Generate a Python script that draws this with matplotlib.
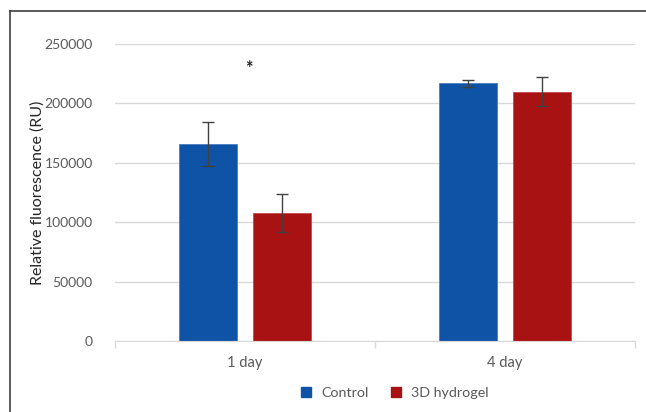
import numpy as np
import matplotlib.pyplot as plt
from matplotlib.lines import Line2D

days = ['1 day', '4 day']
series = ['Control', '3D hydrogel']
control = [166000, 216800]
control_err = [18500, 2800]
hydrogel = [107800, 210000]
hydrogel_err = [16300, 12000]
star_pos = 0
star_y = 229000

colors = ['#0F53A6', '#A81212']
txt = '#595959'

plt.rcParams['font.family'] = ['Lato', 'DejaVu Sans']

fig = plt.figure(figsize=(6.46, 4.12), dpi=100)
ax = fig.add_axes([115/646, 71/412, 520/646, 297/412])

x = np.arange(len(days))
w = 0.224
off = 0.142
ax.bar(x - off, control, w, color=colors[0], edgecolor='#4A7FC0', linewidth=0.6, zorder=2)
ax.bar(x + off, hydrogel, w, color=colors[1], edgecolor='#C04A4A', linewidth=0.6, zorder=2)
ax.errorbar(x - off, control, yerr=control_err, fmt='none', ecolor='#404040',
            elinewidth=1, capsize=4.5, capthick=1, zorder=3)
ax.errorbar(x + off, hydrogel, yerr=hydrogel_err, fmt='none', ecolor='#404040',
            elinewidth=1, capsize=4.5, capthick=1, zorder=3)
ax.text(star_pos + 0.015, star_y, '*', ha='center', va='center', fontsize=13,
        fontweight='bold', color='#222222')

ax.set_xlim(-0.5, 1.5)
ax.set_ylim(0, 250000)
ax.set_yticks(np.arange(0, 250001, 50000))
ax.yaxis.grid(True, color='#D9D9D9', linewidth=1, zorder=0)
ax.set_xticks(x)
ax.set_xticklabels(days)
ax.set_xticks([-0.5, 0.5, 1.5], minor=True)
ax.tick_params(axis='x', which='major', length=0, pad=11, labelsize=10.5, labelcolor=txt)
ax.tick_params(axis='x', which='minor', length=5, color='#D9D9D9', width=1)
ax.tick_params(axis='y', length=0, pad=16, labelsize=10, labelcolor=txt)
for s in ['top', 'right', 'left']:
    ax.spines[s].set_visible(False)
ax.spines['bottom'].set_color('#D9D9D9')
ax.set_ylabel('Relative fluorescence (RU)', fontsize=11.5, color='#262626', labelpad=0)

handles = [Line2D([], [], marker='s', linestyle='none', markersize=7.5, color=c) for c in colors]
fig.legend(handles, series, loc='center', bbox_to_anchor=(390/646, 1 - 393/412), ncol=2,
           frameon=False, fontsize=10.3, handletextpad=0.05, columnspacing=0.9,
           labelcolor=txt)

# outer frame (top and left edges)
fig.add_artist(Line2D([10/646, 1], [1 - 11/412, 1 - 11/412], color='#404040', linewidth=1.2))
fig.add_artist(Line2D([10/646, 10/646], [0, 1 - 11/412], color='#404040', linewidth=1.2))

fig.savefig('out.png', dpi=100)
